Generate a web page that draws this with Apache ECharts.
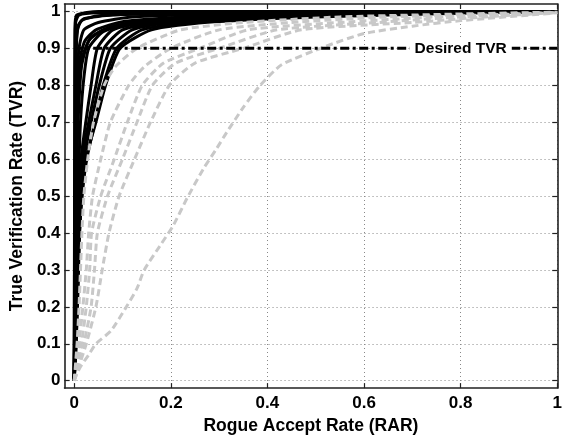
<!DOCTYPE html>
<html>
<head>
<meta charset="utf-8">
<script src="https://cdn.jsdelivr.net/npm/echarts@6/dist/echarts.min.js"></script>
<style>
html,body{margin:0;padding:0;background:#fff;}
#chart{width:565px;height:440px;}
</style>
</head>
<body>
<div id="chart"></div>
<script>
// ---- data (x = RAR, y = TVR) ----
const xTicks = [0, 0.2, 0.4, 0.6, 0.8, 1];
const yTicks = [0, 0.1, 0.2, 0.3, 0.4, 0.5, 0.6, 0.7, 0.8, 0.9, 1];
const xTitle = 'Rogue Accept Rate (RAR)';
const yTitle = 'True Verification Rate (TVR)';
const desiredTVR = 0.9;
const desiredLabel = 'Desired TVR';
const desiredLabelAt = 0.8;
const desiredLineX = [0, 1];

// black solid curves
const black1 = [[0,0],[0.001,0.5],[0.002,0.9],[0.003,0.97],[0.01,0.99],[0.05,0.996],[0.3,0.999],[1,1]];
const black2 = [[0,0],[0.002,0.4],[0.003,0.7],[0.004,0.88],[0.007,0.95],[0.015,0.975],[0.05,0.988],[0.2,0.995],[1,1]];
const black3 = [[0,0],[0.002,0.3],[0.004,0.6],[0.006,0.8],[0.01,0.9],[0.02,0.95],[0.05,0.97],[0.12,0.985],[0.4,0.995],[1,1]];
const black4 = [[0,0],[0.003,0.3],[0.005,0.55],[0.008,0.7],[0.015,0.85],[0.03,0.92],[0.06,0.95],[0.12,0.97],[0.3,0.985],[0.6,0.995],[1,1]];
const black5 = [[0,0],[0.002,0.2],[0.004,0.5],[0.006,0.7],[0.01,0.8],[0.018,0.88],[0.035,0.93],[0.08,0.96],[0.2,0.98],[0.5,0.993],[1,1]];
const black6 = [[0,0],[0.003,0.2],[0.006,0.4],[0.009,0.55],[0.013,0.7],[0.02,0.82],[0.03,0.9],[0.06,0.945],[0.12,0.97],[0.3,0.988],[1,1]];
const black7 = [[0,0],[0.003,0.15],[0.006,0.3],[0.008,0.4],[0.011,0.5],[0.014,0.6],[0.024,0.7],[0.035,0.8],[0.048,0.9],[0.08,0.95],[0.15,0.97],[0.3,0.985],[0.6,0.995],[1,1]];
const black8 = [[0,0],[0.004,0.15],[0.007,0.3],[0.009,0.4],[0.013,0.5],[0.016,0.6],[0.03,0.7],[0.045,0.8],[0.062,0.9],[0.1,0.95],[0.18,0.97],[0.35,0.985],[0.65,0.995],[1,1]];
const black9 = [[0,0],[0.004,0.1],[0.007,0.25],[0.01,0.4],[0.014,0.5],[0.02,0.6],[0.035,0.7],[0.052,0.8],[0.075,0.9],[0.12,0.95],[0.2,0.97],[0.4,0.985],[0.7,0.995],[1,1]];
const black10 = [[0,0],[0.004,0.1],[0.008,0.25],[0.011,0.4],[0.016,0.5],[0.026,0.6],[0.043,0.7],[0.06,0.8],[0.088,0.9],[0.14,0.95],[0.24,0.97],[0.45,0.985],[0.75,0.995],[1,1]];
const black11 = [[0,0],[0.003,0.1],[0.007,0.25],[0.011,0.4],[0.016,0.5],[0.024,0.6],[0.045,0.7],[0.065,0.8],[0.095,0.9],[0.16,0.95],[0.27,0.97],[0.5,0.985],[0.8,0.995],[1,1]];
const black12 = [[0,0],[0.001,0.7],[0.0015,0.95],[0.005,0.99],[0.05,1],[1,1]];
const black13 = [[0,0],[0.002,0.5],[0.004,0.9],[0.008,0.96],[0.02,0.98],[0.08,0.99],[0.3,0.997],[1,1]];
const black14 = [[0,0],[0.003,0.4],[0.006,0.75],[0.012,0.87],[0.022,0.92],[0.045,0.95],[0.1,0.972],[0.25,0.986],[0.6,0.996],[1,1]];

// grey dashed curves
const grey1 = [[0,0],[0.006,0.1],[0.01,0.2],[0.013,0.3],[0.016,0.4],[0.02,0.5],[0.028,0.6],[0.04,0.7],[0.062,0.8],[0.085,0.85],[0.13,0.9],[0.22,0.95],[0.35,0.97],[0.55,0.985],[0.8,0.993],[1,0.998]];
const grey2 = [[0,0],[0.01,0.1],[0.018,0.2],[0.025,0.3],[0.03,0.4],[0.038,0.5],[0.055,0.6],[0.075,0.7],[0.113,0.8],[0.145,0.85],[0.2,0.9],[0.3,0.95],[0.45,0.97],[0.65,0.985],[1,0.997]];
const grey3 = [[0,0],[0.015,0.1],[0.025,0.2],[0.032,0.3],[0.036,0.4],[0.055,0.5],[0.083,0.6],[0.11,0.7],[0.141,0.8],[0.185,0.86],[0.26,0.9],[0.36,0.95],[0.55,0.97],[0.75,0.985],[1,0.997]];
const grey4 = [[0,0],[0.02,0.1],[0.035,0.2],[0.042,0.3],[0.048,0.4],[0.069,0.5],[0.1,0.6],[0.13,0.7],[0.162,0.8],[0.21,0.86],[0.3,0.9],[0.42,0.95],[0.63,0.97],[0.8,0.985],[1,0.997]];
const grey5 = [[0,0],[0.025,0.1],[0.045,0.2],[0.058,0.3],[0.072,0.4],[0.093,0.5],[0.125,0.6],[0.158,0.7],[0.197,0.8],[0.25,0.86],[0.35,0.9],[0.47,0.95],[0.7,0.97],[0.85,0.985],[1,0.997]];
const grey6 = [[0,0],[0.006,0.02],[0.014,0.04],[0.03,0.07],[0.045,0.1],[0.076,0.135],[0.108,0.2],[0.13,0.25],[0.145,0.3],[0.18,0.37],[0.205,0.42],[0.234,0.495],[0.268,0.575],[0.295,0.629],[0.316,0.673],[0.35,0.74],[0.385,0.8],[0.43,0.856],[0.52,0.905],[0.6,0.94],[0.7,0.96],[0.8,0.975],[1,0.996]];

const blackCurves = [black1,black2,black3,black4,black5,black6,black7,black8,black9,black10,black11,black12,black13,black14];
const greyCurves = [grey1,grey2,grey3,grey4,grey5,grey6];

// ---- chart ----
const FONT = '"Liberation Sans", Arial, Helvetica, sans-serif';
const axisColor = '#222';
const chart = echarts.init(document.getElementById('chart'), null, {renderer: 'canvas'});

const tickStyle = {color: axisColor, width: 1.2};
const labelStyle = {color: '#000', fontFamily: FONT, fontWeight: 'bold', fontSize: 17};
const fmt = v => String(+(+v).toFixed(1));

function mainAxis(extra) {
  return Object.assign({
    type: 'value',
    axisLine: {show: true, onZero: false, lineStyle: {color: axisColor, width: 1.6}},
    splitLine: {show: true, lineStyle: {color: '#888', width: 1, type: [1, 3]}},
    nameTextStyle: {color: '#000', fontFamily: FONT, fontWeight: 'bold', fontSize: 17.5},
    nameLocation: 'middle'
  }, extra);
}
function boxAxis(extra) {
  return Object.assign({
    type: 'value',
    axisLine: {show: true, onZero: false, lineStyle: {color: axisColor, width: 1.6}},
    splitLine: {show: false},
    axisLabel: {show: false}
  }, extra);
}

const series = [];
blackCurves.forEach((c, i) => series.push({
  type: 'line', name: 'black' + (i + 1), data: c, xAxisIndex: 0, yAxisIndex: 0,
  showSymbol: false, symbol: 'none', smooth: 0.2, z: 2,
  lineStyle: {color: '#000', width: 3}
}));
greyCurves.forEach((c, i) => series.push({
  type: 'line', name: 'grey' + (i + 1), data: c, xAxisIndex: 0, yAxisIndex: 0,
  showSymbol: false, symbol: 'none', smooth: 0.2, z: 3,
  lineStyle: {color: '#c8c8c8', width: 3, type: [7, 4]}
}));
series.push({
  type: 'line', name: 'desired', data: desiredLineX.map(x => [x, desiredTVR]),
  showSymbol: false, symbol: 'none', z: 4,
  lineStyle: {color: '#000', width: 3, type: [9, 3.5, 3, 3.5]}
});
series.push({
  type: 'scatter', name: 'desiredLabel', data: [[desiredLabelAt, desiredTVR]],
  symbolSize: 0, z: 5, itemStyle: {color: '#000', opacity: 1},
  label: {show: true, position: 'inside', formatter: desiredLabel, color: '#000', opacity: 1,
          fontFamily: FONT, fontWeight: 'bold', fontSize: 15.5,
          backgroundColor: '#fff', padding: [1, 5]}
});

chart.setOption({
  backgroundColor: '#fff',
  animation: false,
  grid: {left: 63, right: 5, top: 4, bottom: 46, containLabel: false},
  xAxis: [
    mainAxis({position: 'bottom', min: -0.02, max: 1, name: xTitle, nameGap: 18,
      axisTick: {show: true, inside: true, length: 5, customValues: xTicks, lineStyle: tickStyle},
      axisLabel: Object.assign({customValues: xTicks, margin: 7, formatter: fmt}, labelStyle)}),
    boxAxis({position: 'top', min: -0.02, max: 1,
      axisTick: {show: true, inside: true, length: 5, customValues: xTicks, lineStyle: tickStyle}})
  ],
  yAxis: [
    mainAxis({position: 'left', min: -0.02, max: 1.02, name: yTitle, nameGap: 29,
      axisTick: {show: true, inside: true, length: 5, customValues: yTicks, lineStyle: tickStyle},
      axisLabel: Object.assign({customValues: yTicks, margin: 4, formatter: fmt}, labelStyle)}),
    boxAxis({position: 'right', min: -0.02, max: 1.02,
      axisTick: {show: true, inside: true, length: 5, customValues: yTicks, lineStyle: tickStyle}})
  ],
  series: series
});
</script>
</body>
</html>
